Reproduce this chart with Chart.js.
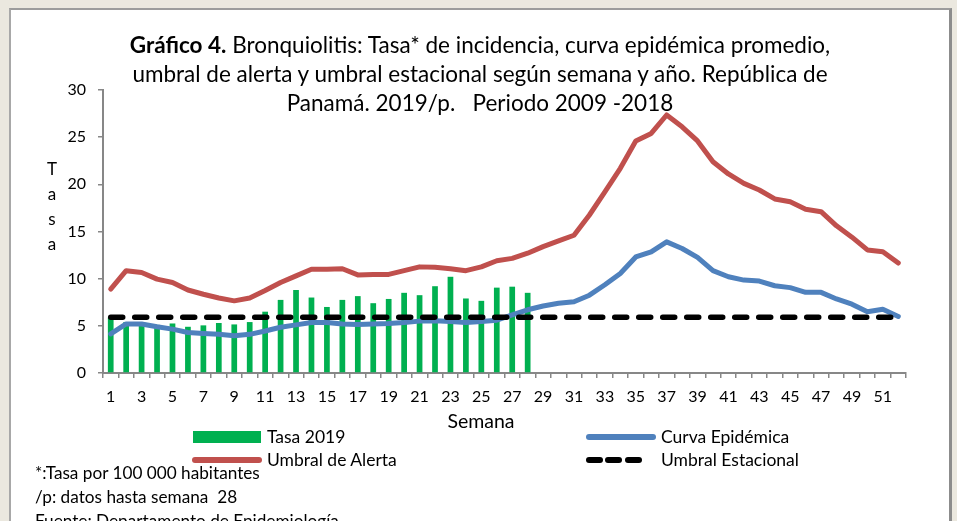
<!DOCTYPE html>
<html>
<head>
<meta charset="utf-8">
<script src="https://cdn.jsdelivr.net/npm/chart.js@4.4.1/dist/chart.umd.min.js"></script>
<style>
html, body { margin: 0; padding: 0; background: #ebe8df; }
#wrap { position: relative; width: 957px; height: 521px; overflow: hidden; font-family: Lato, sans-serif; color: #000; }
#panel { position: absolute; left: 9px; top: 8px; width: 938px; height: 540px; background: #fff;
         border-top: 2px solid #9c9c9c; border-left: 2px solid #a8a8a8; border-right: 3px solid #8c8c8c; }
#chart { position: absolute; left: 0; top: 0; }
#title { position: absolute; left: 0; top: 30px; width: 960px; text-align: center; font-size: 22.5px; line-height: 29px; white-space: pre; }
#ytitle { position: absolute; left: 44px; top: 156px; width: 16px; text-align: center; font-size: 17px; line-height: 25px; }
#xtitle { position: absolute; left: 381px; top: 408px; width: 200px; text-align: center; font-size: 19.5px; line-height: 26px; }
#legend { position: absolute; left: 0; top: 425px; width: 957px; height: 48px; }
.item { position: absolute; display: flex; align-items: center; font-size: 17.5px; line-height: 23px; white-space: nowrap; }
.mark { width: 70px; margin-right: 5px; position: relative; height: 12px; }
#notes { position: absolute; left: 35px; top: 461px; font-size: 17.2px; line-height: 24px; white-space: pre; }
</style>
</head>
<body>
<div id="wrap">
  <div id="panel"></div>
  <canvas id="chart" width="957" height="521"></canvas>
  <div id="title"><b>Gráfico 4.</b> Bronquiolitis: Tasa* de incidencia, curva epidémica promedio,
umbral de alerta y umbral estacional según semana y año. República de
Panamá. 2019/p.   Periodo 2009 -2018</div>
  <div id="ytitle">T<br>a<br>s<br>a</div>
  <div id="xtitle">Semana</div>
  <div id="legend"></div>
  <div id="notes">*:Tasa por 100 000 habitantes
/p: datos hasta semana  28
Fuente: Departamento de Epidemiología</div>
</div>

<script>
// Weeks (categories)
const semanas = [1, 2, 3, 4, 5, 6, 7, 8, 9, 10, 11, 12, 13, 14, 15, 16, 17, 18, 19, 20, 21, 22, 23, 24, 25, 26,
  27, 28, 29, 30, 31, 32, 33, 34, 35, 36, 37, 38, 39, 40, 41, 42, 43, 44, 45, 46, 47, 48, 49, 50, 51, 52];

// 2019 rate, data up to week 28
const tasa2019 = [5.9, 5.4, 5.3, 5.1, 5.25, 4.9, 5.05, 5.3, 5.15, 5.4, 6.5, 7.75, 8.8, 8.0, 7.0, 7.75, 8.15, 7.4,
  7.85, 8.5, 8.25, 9.2, 10.2, 7.9, 7.65, 9.05, 9.15, 8.5];

// Average epidemic curve 2009-2018
const curvaEpidemica = [4.15, 5.2, 5.2, 4.9, 4.65, 4.3, 4.2, 4.1, 3.95, 4.1, 4.45, 4.85, 5.1, 5.35, 5.35, 5.2, 5.15,
  5.2, 5.25, 5.35, 5.5, 5.55, 5.45, 5.35, 5.45, 5.6, 6.15, 6.7, 7.1, 7.4, 7.55, 8.25, 9.35, 10.55, 12.3, 12.85,
  13.9, 13.2, 12.25, 10.85, 10.2, 9.85, 9.75, 9.25, 9.05, 8.55, 8.55, 7.85, 7.3, 6.5, 6.75, 6.0];

// Alert threshold
const umbralAlerta = [8.9, 10.85, 10.65, 9.95, 9.6, 8.8, 8.35, 7.95, 7.65, 7.95, 8.75, 9.6, 10.3, 11.0, 11.0, 11.05,
  10.4, 10.45, 10.45, 10.85, 11.25, 11.2, 11.05, 10.85, 11.25, 11.9, 12.15, 12.7, 13.4, 14.0, 14.6, 16.75, 19.2,
  21.7, 24.6, 25.4, 27.35, 26.1, 24.6, 22.4, 21.1, 20.1, 19.4, 18.45, 18.15, 17.35, 17.1, 15.6, 14.4, 13.05, 12.85,
  11.65];

// Seasonal threshold
const umbralEstacional = [5.9, 5.9, 5.9, 5.9, 5.9, 5.9, 5.9, 5.9, 5.9, 5.9, 5.9, 5.9, 5.9, 5.9, 5.9, 5.9, 5.9, 5.9,
  5.9, 5.9, 5.9, 5.9, 5.9, 5.9, 5.9, 5.9, 5.9, 5.9, 5.9, 5.9, 5.9, 5.9, 5.9, 5.9, 5.9, 5.9, 5.9, 5.9, 5.9, 5.9,
  5.9, 5.9, 5.9, 5.9, 5.9, 5.9, 5.9, 5.9, 5.9, 5.9, 5.9, 5.9];

const yTicks = [0, 5, 10, 15, 20, 25, 30];

const axisColor = '#878787';
const tickFont = { family: 'Lato', size: 16 };

const ctx = document.getElementById('chart').getContext('2d');
const chart = new Chart(ctx, {
  type: 'bar',
  data: {
    labels: semanas,
    datasets: [
      {
        type: 'bar', label: 'Tasa 2019', data: tasa2019,
        backgroundColor: '#00b050', barPercentage: 0.37, categoryPercentage: 1, order: 4
      },
      {
        type: 'line', label: 'Curva Epidémica', data: curvaEpidemica,
        borderColor: '#4f81bd', borderWidth: 5, pointRadius: 0,
        borderCapStyle: 'round', borderJoinStyle: 'round', order: 3
      },
      {
        type: 'line', label: 'Umbral de Alerta', data: umbralAlerta,
        borderColor: '#c0504d', borderWidth: 5, pointRadius: 0,
        borderCapStyle: 'round', borderJoinStyle: 'round', order: 2
      },
      {
        type: 'line', label: 'Umbral Estacional', data: umbralEstacional,
        borderColor: '#000000', borderWidth: 5.5, borderDash: [12, 12], pointRadius: 0,
        borderCapStyle: 'round', order: 1
      }
    ]
  },
  options: {
    responsive: false,
    animation: false,
    layout: { padding: { left: 0, right: 51, top: 90, bottom: 89 } },
    plugins: { legend: { display: false }, tooltip: { enabled: false } },
    scales: {
      x: {
        grid: { offset: true, drawOnChartArea: false, tickLength: 5, color: axisColor, lineWidth: 1.5 },
        border: { color: axisColor, width: 2 },
        ticks: {
          autoSkip: false, maxRotation: 0, padding: 9, color: '#000', font: tickFont,
          callback: (v, i) => (i % 2 === 0 ? semanas[i] : '')
        },
        afterFit: s => { s.height = 59; }
      },
      y: {
        min: 0, max: 30,
        afterBuildTicks: s => { s.ticks = yTicks.map(v => ({ value: v })); },
        grid: { drawOnChartArea: false, tickLength: 5, color: axisColor, lineWidth: 1.5 },
        border: { color: axisColor, width: 2 },
        ticks: { padding: 12, color: '#000', font: tickFont },
        afterFit: s => { s.width = 103; }
      }
    }
  }
});

// Legend built from the datasets (2 columns, 2 rows)
const legendPos = [[192, 0], [586, 0], [192, 23], [586, 23]];
const legend = document.getElementById('legend');
chart.data.datasets.forEach((ds, k) => {
  const item = document.createElement('div');
  item.className = 'item';
  item.style.left = legendPos[k][0] + 'px';
  item.style.top = legendPos[k][1] + 'px';
  const mark = document.createElement('div');
  mark.className = 'mark';
  if (ds.type === 'bar') {
    mark.innerHTML = '<div style="position:absolute;left:1px;top:0;width:68px;height:12px;background:' + ds.backgroundColor + '"></div>';
  } else if (ds.borderDash) {
    mark.innerHTML = [0, 19, 39].map(x =>
      '<div style="position:absolute;left:' + x + 'px;top:3px;width:17px;height:6px;border-radius:3px;background:' + ds.borderColor + '"></div>').join('');
  } else {
    mark.innerHTML = '<div style="position:absolute;left:0;top:3px;width:70px;height:6px;border-radius:3px;background:' + ds.borderColor + '"></div>';
  }
  item.appendChild(mark);
  item.appendChild(document.createTextNode(ds.label));
  legend.appendChild(item);
});
</script>
</body>
</html>
